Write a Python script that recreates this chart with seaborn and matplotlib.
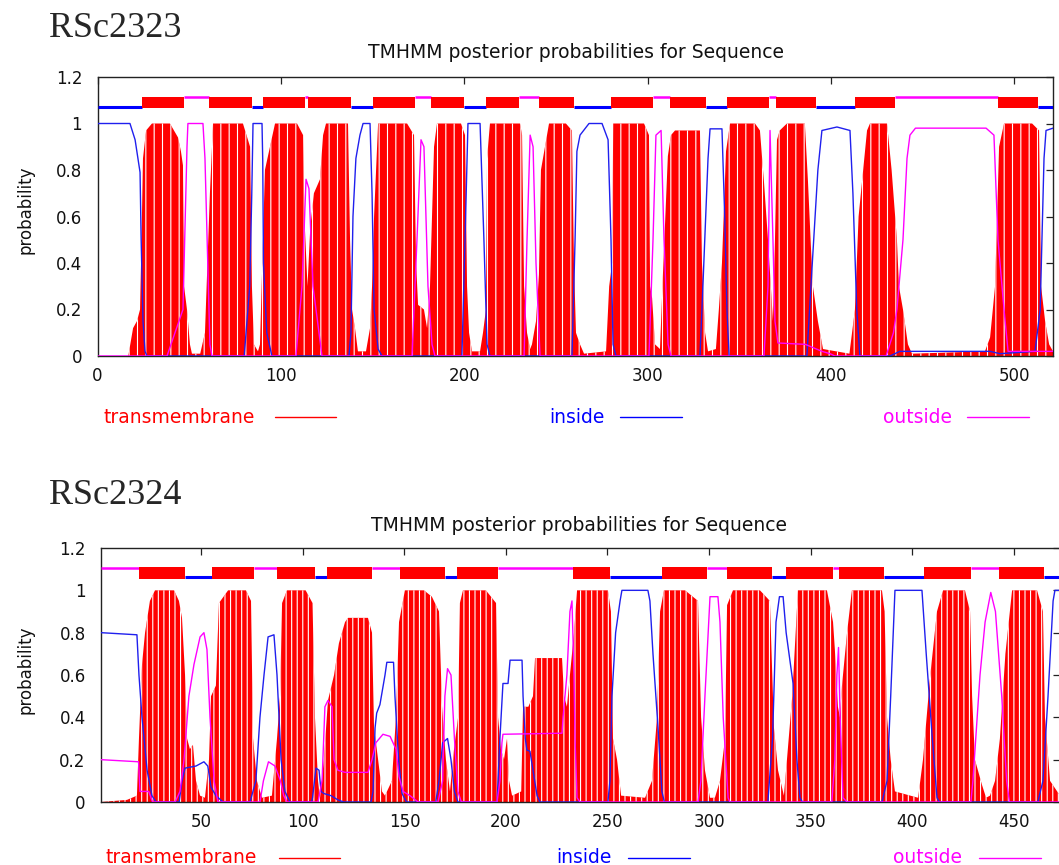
import matplotlib
matplotlib.use("Agg")
import matplotlib.pyplot as plt
from matplotlib.lines import Line2D
import seaborn as sns

# ---------------- data ----------------
# Panel 1 : RSc2323   (residue, probability) key points
p1_tm = [(0, 0), (16.6, 0), (17, 0.01), (19.4, 0.12), (21.5, 0.15), (23.2, 0.2), (24, 0.5), (24.8, 0.85),
         (26.5, 0.97), (29.7, 1.0), (39.5, 1.0), (43.9, 0.94), (45.5, 0.88), (46.6, 0.82), (47.2, 0.3),
         (48.8, 0.2), (50.4, 0.05), (51.5, 0.01), (56, 0.01), (58.6, 0.1), (61.3, 0.7), (63, 1.0),
         (79.3, 1.0), (83.2, 0.9), (84.2, 0.3), (85.3, 0.05), (87.5, 0.02), (88.6, 0.05), (91.3, 0.8),
         (96.8, 1.0), (108.8, 1.0), (112.1, 0.95), (112.8, 0.6), (114.5, 0.3), (116, 0.55), (118, 0.7),
         (121.3, 0.76), (123, 0.95), (124.6, 1.0), (136.6, 1.0), (137.7, 0.5), (138.8, 0.2),
         (140.4, 0.12), (142, 0.02), (146.4, 0.02), (148.6, 0.12), (149.7, 0.3), (150.8, 0.6), (153, 1.0),
         (168.8, 1.0), (172.6, 0.95), (173.7, 0.4), (174.8, 0.22), (178, 0.2), (179.7, 0.12),
         (181.3, 0.3), (182.4, 0.6), (183.5, 0.9), (185.1, 1.0), (198.2, 1.0), (200.4, 0.95),
         (201.5, 0.3), (202.6, 0.1), (204.2, 0.02), (208.6, 0.02), (210.2, 0.1), (211.8, 0.2),
         (212.4, 0.85), (214, 1.0), (230.4, 1.0), (231.5, 0.95), (232.6, 0.3), (234.2, 0.1), (235.9, 0.03),
         (236.9, 0.05), (239.1, 0.15), (240.7, 0.35), (241.8, 0.8), (246.2, 1.0), (255.4, 1.0),
         (258.7, 0.97), (259.8, 0.4), (260.9, 0.1), (263.1, 0.05), (265.3, 0.01), (277.3, 0.02),
         (279, 0.3), (280.6, 0.4), (281.2, 1.0), (298, 1.0), (300.7, 0.95), (301.3, 0.3), (302.4, 0.25),
         (304, 0.05), (306.7, 0.03), (308.3, 0.35), (311, 0.86), (312.7, 0.95), (314.9, 0.97),
         (328.5, 0.97), (329.6, 0.4), (331.3, 0.1), (332.9, 0.02), (337.2, 0.03), (338.8, 0.2),
         (340.5, 0.4), (342.7, 0.88), (344.9, 1.0), (358.5, 1.0), (361.2, 0.97), (363.4, 0.75),
         (365.6, 0.5), (368.3, 0.15), (369.4, 0.5), (370.5, 0.93), (372, 0.97), (375.9, 1.0),
         (385.7, 1.0), (387.4, 0.75), (389, 0.47), (390.1, 0.3), (392.8, 0.15), (395.6, 0.03),
         (410, 0.01), (413, 0.2), (415, 0.6), (419.6, 0.97), (421.2, 1.0), (430.5, 1.0), (433, 0.8),
         (435.9, 0.5), (437, 0.3), (439.2, 0.2), (441.9, 0.05), (444.1, 0.01), (483.9, 0.02),
         (486.7, 0.08), (489.4, 0.3), (491.6, 0.9), (494.3, 1.0), (509.6, 1.0), (513.4, 0.97),
         (514.5, 0.3), (516.7, 0.15), (518.9, 0.05), (521, 0.02)]
p1_inside = [(0, 1.0), (17.7, 1.0), (20.5, 0.93), (23.2, 0.79), (23.8, 0.5), (24.8, 0.15), (25.9, 0.02),
             (27, 0), (80, 0), (83, 0.3), (84.1, 0.69), (84.8, 1.0), (89.7, 1.0), (90.1, 0.84),
             (90.5, 0.4), (92.3, 0.1), (95.1, 0), (137.1, 0), (138.2, 0.1), (139.3, 0.6), (140.9, 0.85),
             (143.1, 0.95), (144.8, 1.0), (148.6, 1.0), (149.7, 0.7), (150.8, 0.2), (153, 0.03),
             (155.1, 0), (198.7, 0), (200.4, 0.5), (202, 1.0), (208.6, 1.0), (210.7, 0.5), (212.4, 0.05),
             (214, 0), (258.7, 0), (260.4, 0.5), (261.4, 0.88), (263.1, 0.95), (268, 1.0), (275.1, 1.0),
             (278.4, 0.93), (280, 0.5), (281.1, 0.05), (282.7, 0), (328.5, 0), (330.1, 0.3),
             (332.9, 0.85), (334, 0.977), (340.5, 0.977), (342, 0.6), (343.2, 0.2), (344.4, 0),
             (386.8, 0), (389, 0.3), (392.8, 0.8), (395, 0.97), (403.2, 0.985), (410.3, 0.97),
             (411.9, 0.7), (414, 0.2), (415.7, 0), (432.1, 0), (437.5, 0.02), (486.7, 0.02),
             (492.1, 0.01), (511.2, 0.02), (514, 0.2), (516.1, 0.85), (517.2, 0.97), (521, 0.98)]
p1_outside = [(0, 0), (37.9, 0), (46.6, 0.2), (48.8, 0.9), (49.3, 1.0), (57.5, 1.0), (58.6, 0.85),
              (61.3, 0.05), (62.4, 0), (108.2, 0), (111.5, 0.3), (113.7, 0.76), (115.3, 0.72),
              (117.5, 0.3), (122.4, 0), (171.5, 0), (174.2, 0.5), (176.4, 0.93), (178, 0.9), (180.2, 0.3),
              (182.4, 0.05), (184, 0), (232.6, 0), (234.2, 0.5), (235.9, 0.95), (237.5, 0.9), (239.1, 0.4),
              (241.3, 0), (300.7, 0), (302.9, 0.5), (304.5, 0.95), (307.3, 0.97), (308.9, 0.5),
              (311.1, 0.05), (312.7, 0), (363.4, 0), (365.6, 0.3), (366.7, 0.97), (368.3, 0.5),
              (369.4, 0.15), (371, 0.056), (386, 0.05), (395, 0.02), (399.4, 0.01), (402.1, 0),
              (430, 0), (434, 0.1), (435.9, 0.2), (439.2, 0.5), (441.4, 0.85), (443, 0.95), (446, 0.98),
              (484.5, 0.98), (488.8, 0.95), (491, 0.5), (494.3, 0.2), (496.5, 0.02), (521, 0.02)]
p1_seg_start = [0, 24, 47, 61, 84, 90, 113, 115, 138, 150, 173, 182, 200, 212, 230, 241, 260, 280, 303,
                312, 332, 343, 366, 370, 392, 413, 435, 491, 513]
p1_seg_end = [24, 47, 61, 84, 90, 113, 115, 138, 150, 173, 182, 200, 212, 230, 241, 260, 280, 303, 312,
              332, 343, 366, 370, 392, 413, 435, 491, 513, 521]
p1_seg_kind = ["in", "TM", "out", "TM", "in", "TM", "out", "TM", "in", "TM", "out", "TM", "in", "TM",
               "out", "TM", "in", "TM", "out", "TM", "in", "TM", "out", "TM", "in", "TM", "out", "TM", "in"]

# Panel 2 : RSc2324
p2_tm = [(0.5, 0), (13.3, 0.01), (18.2, 0.03), (19.2, 0.3), (20.7, 0.65), (22.2, 0.8), (24.6, 0.95),
         (27.1, 1.0), (36.5, 1.0), (38.9, 0.95), (40.4, 0.87), (41.9, 0.6), (42.9, 0.3), (44.3, 0.25),
         (45.8, 0.27), (47.3, 0.1), (49.3, 0.03), (51.7, 0.02), (53.7, 0.2), (54.7, 0.5), (57.1, 0.55),
         (58.6, 0.94), (63.1, 1.0), (71.9, 1.0), (74.4, 0.95), (75.4, 0.3), (77.3, 0.1), (79.8, 0.02),
         (84.7, 0.03), (87.2, 0.3), (88.7, 0.5), (89.7, 0.94), (92.1, 1.0), (101.3, 1.0), (104.7, 0.94),
         (105.9, 0.4), (107.4, 0.1), (108.4, 0.02), (110.3, 0.2), (112.3, 0.48), (115.3, 0.6),
         (117.7, 0.75), (120.7, 0.85), (122.2, 0.87), (132, 0.87), (134, 0.8), (135, 0.35), (137, 0.2),
         (138.9, 0.05), (140.4, 0.03), (143.8, 0.1), (145.8, 0.4), (147.3, 0.85), (150.2, 1.0),
         (159.6, 1.0), (163.5, 0.97), (167, 0.9), (168.5, 0.45), (170.4, 0.2), (172.4, 0.05),
         (174.4, 0.25), (176.4, 0.4), (177.3, 0.94), (178.8, 1.0), (190.1, 1.0), (195.1, 0.94),
         (196.1, 0.4), (197.5, 0.25), (199, 0.2), (200.5, 0.3), (201.5, 0.1), (203, 0.03), (207.5, 0.05),
         (208.4, 0.45), (211, 0.45), (213.3, 0.5), (214.3, 0.68), (227.6, 0.68), (228.6, 0.5),
         (230, 0.45), (231.5, 0.6), (233.5, 0.8), (235, 1.0), (250.2, 1.0), (251.7, 0.9),
         (252.7, 0.3), (254.7, 0.2), (256.7, 0.03), (268.5, 0.02), (271.9, 0.1), (274.4, 0.4),
         (275.9, 0.9), (277.8, 1.0), (288.2, 1.0), (294.6, 0.95), (296.1, 0.4), (298, 0.15),
         (300.5, 0.02), (302.9, 0.02), (305.4, 0.1), (307.9, 0.3), (308.9, 0.93), (311.8, 1.0),
         (325.1, 1.0), (330, 0.95), (332, 0.35), (334, 0.15), (336.9, 0.03), (338.4, 0.2), (341, 0.5),
         (343.8, 1.0), (358.1, 1.0), (361.1, 0.85), (362, 0.72), (363.5, 0.45), (364.5, 0.4),
         (365.5, 0.55), (368, 0.8), (370.4, 1.0), (385.2, 1.0), (386.5, 0.9), (387.7, 0.4),
         (389.5, 0.2), (391.6, 0.05), (403, 0.02), (405.4, 0.2), (409, 0.6), (412.3, 0.9),
         (415.3, 1.0), (426.1, 1.0), (428.6, 0.9), (429.6, 0.5), (431, 0.2), (434.5, 0.08),
         (436.5, 0.02), (438.4, 0.03), (440.9, 0.1), (443.3, 0.3), (446, 0.7), (449.3, 1.0),
         (461.6, 1.0), (464.5, 0.9), (465.5, 0.4), (468, 0.1), (472.9, 0.03)]
p2_inside = [(0.5, 0.8), (18.2, 0.79), (19.2, 0.6), (20.7, 0.4), (21.7, 0.3), (23.2, 0.15), (25.6, 0.03),
             (27.6, 0), (39, 0), (40.4, 0.1), (41.9, 0.16), (47.3, 0.17), (51.2, 0.19), (53.1, 0.17),
             (54.7, 0.07), (57.1, 0.03), (60.6, 0), (73.9, 0), (76.8, 0.1), (78.8, 0.4), (80.8, 0.6),
             (82.8, 0.78), (85.7, 0.79), (87.2, 0.6), (89.2, 0.2), (91.1, 0.05), (93.6, 0), (104.2, 0),
             (104.7, 0.02), (106.4, 0.16), (107.9, 0.15), (108.9, 0.05), (110.3, 0.04), (113.8, 0.03),
             (117.2, 0.01), (120, 0), (133.5, 0), (134.5, 0.05), (135.5, 0.35), (136.3, 0.42),
             (137.9, 0.46), (140.4, 0.6), (141.3, 0.66), (144.6, 0.66), (145.3, 0.5), (147.1, 0.2),
             (148.8, 0.04), (151, 0), (165.4, 0), (167, 0.1), (168.8, 0.28), (171.2, 0.3), (172.9, 0.2),
             (174.6, 0.05), (176.3, 0), (195.6, 0), (197, 0.3), (198.5, 0.56), (201, 0.56), (202, 0.67),
             (207.9, 0.67), (208.4, 0.5), (209.5, 0.3), (210.3, 0.245), (211.8, 0.24), (213.3, 0.15),
             (215.3, 0.03), (216.7, 0), (250.2, 0), (251.2, 0.1), (252.2, 0.5), (254, 0.8),
             (256.2, 0.95), (257.1, 1.0), (269.9, 1.0), (270.9, 0.95), (272.4, 0.7), (274.9, 0.35),
             (276.8, 0.05), (278, 0), (329, 0), (331.3, 0.3), (333, 0.85), (334.7, 0.97), (336.5, 0.97),
             (338, 0.8), (341.4, 0.56), (343.3, 0.2), (344.8, 0.02), (346, 0), (385.2, 0), (387.7, 0.1),
             (389.5, 0.5), (391.6, 1.0), (404.9, 1.0), (407, 0.7), (410, 0.3), (412.3, 0.02),
             (413.5, 0), (462, 0), (464.5, 0.1), (467, 0.5), (469.5, 0.95), (470.4, 1.0), (472.9, 1.0)]
p2_outside = [(0.5, 0.2), (19, 0.19), (19.7, 0.05), (24, 0.05), (25.9, 0), (37, 0), (39.4, 0.05),
              (41.4, 0.2), (43.8, 0.5), (46.3, 0.65), (49.3, 0.78), (51.2, 0.8), (52.7, 0.72), (54.2, 0.4),
              (56.2, 0.1), (58.1, 0), (78.8, 0), (80.5, 0.1), (83, 0.19), (86.2, 0.17), (88.9, 0.1),
              (90.5, 0.03), (92.1, 0), (107.4, 0), (109.4, 0.1), (110.8, 0.45), (112.3, 0.48),
              (114.3, 0.45), (115.3, 0.2), (117.2, 0.15), (120.7, 0.14), (132, 0.14), (134, 0.2),
              (135.9, 0.28), (139.4, 0.32), (142.9, 0.31), (145.8, 0.25), (147.3, 0.12), (149.3, 0.05),
              (152.7, 0.03), (156.7, 0), (166.5, 0), (168.8, 0.1), (169.9, 0.5), (171.2, 0.63),
              (172.9, 0.6), (174.6, 0.3), (176.3, 0.05), (178, 0), (195.6, 0), (197, 0.1), (198, 0.28),
              (198.5, 0.32), (227.6, 0.325), (228.1, 0.4), (230, 0.6), (231.5, 0.9), (232.5, 0.95),
              (233.5, 0.6), (234, 0.3), (235, 0.02), (236.5, 0), (294.6, 0), (296, 0.1), (298, 0.5),
              (300.5, 0.97), (304.4, 0.97), (305.4, 0.85), (307, 0.4), (309.4, 0.02), (310.3, 0),
              (360.5, 0), (362, 0.2), (363, 0.6), (363.8, 0.73), (364.6, 0.4), (366, 0.02), (368, 0),
              (429, 0), (430, 0.1), (433.5, 0.6), (436, 0.85), (438.8, 0.99), (441.1, 0.9), (444.2, 0.5),
              (446.6, 0.1), (448, 0), (472.9, 0)]
p2_seg_start = [0.5, 19, 42, 55, 76, 87, 106, 112, 134, 148, 170, 176, 196, 233, 251, 277, 299, 309, 331,
                338, 361, 364, 386, 406, 429, 443, 465]
p2_seg_end = [19, 42, 55, 76, 87, 106, 112, 134, 148, 170, 176, 196, 233, 251, 277, 299, 309, 331, 338,
              361, 364, 386, 406, 429, 443, 465, 472.9]
p2_seg_kind = ["out", "TM", "in", "TM", "out", "TM", "in", "TM", "out", "TM", "in", "TM", "out", "TM",
               "in", "TM", "out", "TM", "in", "TM", "out", "TM", "in", "TM", "out", "TM", "in"]

panel_names = ["RSc2323", "RSc2324"]
plot_title = "TMHMM posterior probabilities for Sequence"
legend_labels = ["transmembrane", "inside", "outside"]
y_ticks = [0, 0.2, 0.4, 0.6, 0.8, 1.0, 1.2]
y_ticklabels = ["0", "0.2", "0.4", "0.6", "0.8", "1", "1.2"]
p1_xticks = [0, 100, 200, 300, 400, 500]
p2_xticks = [50, 100, 150, 200, 250, 300, 350, 400, 450]

# ---------------- style ----------------
sns.set_theme(style="white")
plt.rcParams["font.family"] = ["DejaVu Sans"]
plt.rcParams["hatch.linewidth"] = 0.8

RED, BLUE, MAG = "#ff0000", "#2020ee", "#ff00ff"
W, H = 1059, 865
fig = plt.figure(figsize=(W / 100, H / 100), dpi=100)
fig.patch.set_facecolor("white")


def axes_px(l, t, r, b):
    return fig.add_axes([l / W, 1 - b / H, (r - l) / W, (b - t) / H])


def draw_panel(ax, tm, inside, outside, s_start, s_end, s_kind, xlim, xticks, hatch, levels):
    tx, ty = zip(*tm)
    ax.fill_between(tx, ty, 0, facecolor=RED, edgecolor="white", hatch=hatch, linewidth=0, zorder=2)
    ix, iy = zip(*inside)
    ox, oy = zip(*outside)
    sns.lineplot(x=list(ix), y=list(iy), color=BLUE, lw=1.0, ax=ax, estimator=None, sort=False, zorder=3)
    sns.lineplot(x=list(ox), y=list(oy), color=MAG, lw=1.0, ax=ax, estimator=None, sort=False, zorder=4)
    lo, hi, y_in, y_out = levels
    for s, e, k in zip(s_start, s_end, s_kind):
        if k == "TM":
            ax.fill_between([s, e], [lo, lo], [hi, hi], color=RED, linewidth=0, zorder=5)
        elif k == "in":
            ax.plot([s, e], [y_in, y_in], color="#0000ff", lw=2.2, solid_capstyle="butt", zorder=5)
        else:
            ax.plot([s, e], [y_out, y_out], color=MAG, lw=1.8, solid_capstyle="butt", zorder=5)
    ax.set_xlim(*xlim)
    ax.set_ylim(0, 1.2)
    ax.set_xticks(xticks)
    ax.set_xticklabels([str(t) for t in xticks])
    ax.set_yticks(y_ticks)
    ax.set_yticklabels(y_ticklabels)
    ax.set_xlabel("")
    ax.set_ylabel("")
    ax.tick_params(direction="in", top=True, right=True, length=5, width=0.9, color="#222222",
                   labelsize=12, labelcolor="#111111")
    ax.tick_params(axis="x", pad=8)
    ax.tick_params(axis="y", pad=11)
    for sp in ax.spines.values():
        sp.set_visible(True)
        sp.set_color("#222222")
        sp.set_linewidth(1.0)
    ax.set_facecolor("white")


ax1 = axes_px(97.5, 77, 1053, 356)
draw_panel(ax1, p1_tm, p1_inside, p1_outside, p1_seg_start, p1_seg_end, p1_seg_kind,
           (0, 521), p1_xticks, "||", (1.066, 1.115, 1.071, 1.112))

ax2 = axes_px(101, 548, 1060, 802)
draw_panel(ax2, p2_tm, p2_inside, p2_outside, p2_seg_start, p2_seg_end, p2_seg_kind,
           (0.5, 472.9), p2_xticks, "|||", (1.055, 1.108, 1.062, 1.106))


def ftext(x, y, s, **kw):
    fig.text(x / W, 1 - y / H, s, **kw)


def fline(x0, x1, y, color):
    fig.add_artist(Line2D([x0 / W, x1 / W], [1 - y / H, 1 - y / H], color=color, lw=1.0))


# panel names
ftext(49, 37, panel_names[0], family="Liberation Serif", fontsize=26, ha="left", va="baseline")
ftext(49, 504, panel_names[1], family="Liberation Serif", fontsize=26, ha="left", va="baseline")

# titles
ftext(576, 58, plot_title, fontsize=13.5, ha="center", va="baseline", color="#111111")
ftext(579, 531, plot_title, fontsize=13.5, ha="center", va="baseline", color="#111111")

# y labels
ftext(25, 210, "probability", fontsize=12, rotation=90, ha="center", va="center", color="#111111")
ftext(25, 670, "probability", fontsize=12, rotation=90, ha="center", va="center", color="#111111")

# legends
for (yb, yl, pos) in [(423, 417, [(104, 275, 336), (549, 620, 682), (883, 967, 1029)]),
                      (863, 858, [(105, 279, 340), (556, 628, 690), (893, 979, 1041)])]:
    for lab, col, (xt, xl0, xl1) in zip(legend_labels, [RED, "#0000ff", MAG], pos):
        ftext(xt, yb, lab, fontsize=13.5, ha="left", va="baseline", color=col)
        fline(xl0, xl1, yl, col)

fig.savefig("out.png", dpi=100, facecolor="white")
